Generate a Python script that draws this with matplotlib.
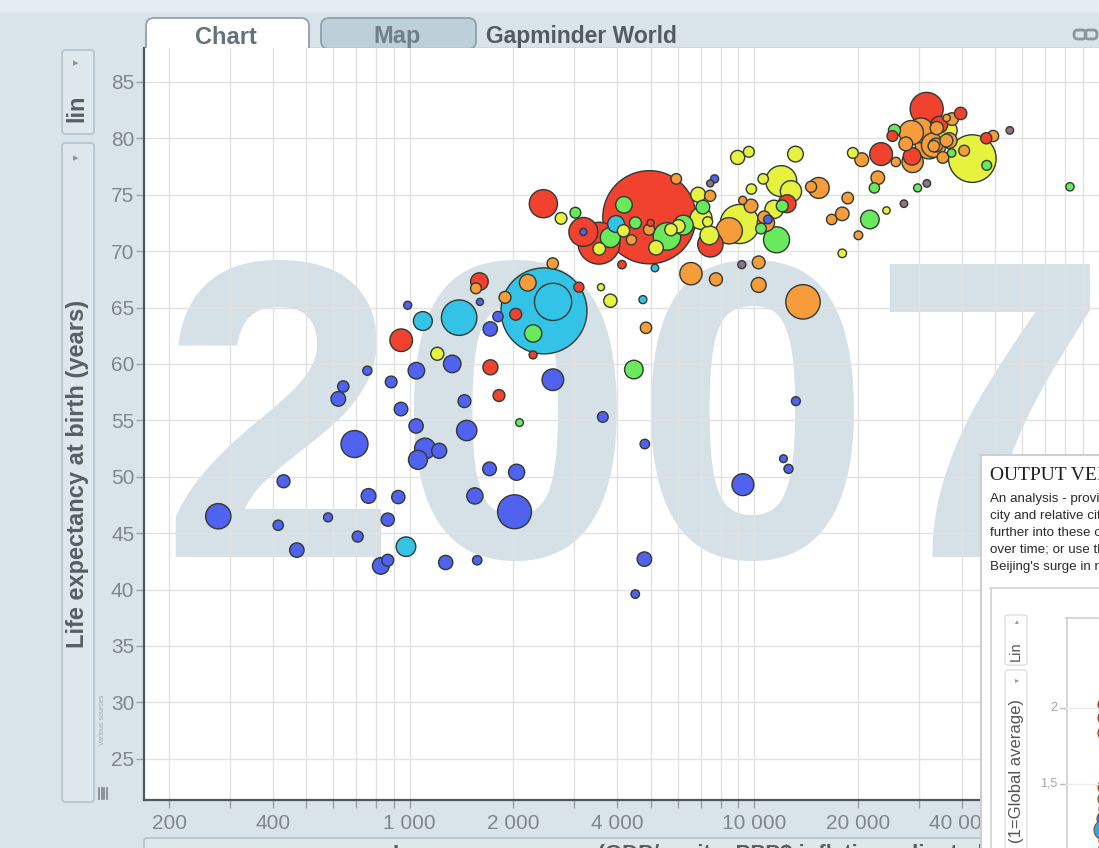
import numpy as np
import matplotlib
matplotlib.use("Agg")
import matplotlib.pyplot as plt
from matplotlib.patches import FancyBboxPatch, Rectangle, Circle
from matplotlib.ticker import FixedLocator, FixedFormatter, NullFormatter

W, H = 1099, 848

# ---------------- data (GDP per capita, life expectancy, population in millions) -------------
ssa_names = ["Angola", "Benin", "Botswana", "Burkina Faso", "Burundi", "Cameroon", "CAR", "Chad",
             "Comoros", "Congo DR", "Congo Rep", "Cote d'Ivoire", "Eq. Guinea", "Eritrea", "Ethiopia",
             "Gabon", "Gambia", "Ghana", "Guinea", "Guinea-Bissau", "Kenya", "Lesotho", "Liberia",
             "Madagascar", "Malawi", "Mali", "Mauritania", "Mauritius", "Mozambique", "Namibia", "Niger",
             "Nigeria", "Reunion", "Rwanda", "Sao Tome", "Senegal", "Sierra Leone", "Somalia",
             "South Africa", "Sudan", "Swaziland", "Tanzania", "Togo", "Uganda", "Zambia", "Zimbabwe",
             "Cape Verde"]
ssa_gdp = [4797, 1441, 12570, 1217, 430, 2042, 706, 1704, 986, 278, 3633, 1545, 12154, 641, 691,
           13206, 753, 1328, 943, 579, 1463, 1569, 415, 1045, 759, 1043, 1803, 10957, 824, 4811, 620,
           2014, 7670, 863, 1598, 1712, 863, 926, 9270, 2602, 4513, 1107, 883, 1056, 1271, 470, 3190]
ssa_life = [42.7, 56.7, 50.7, 52.3, 49.6, 50.4, 44.7, 50.7, 65.2, 46.5, 55.3, 48.3, 51.6, 58.0, 52.9,
            56.7, 59.4, 60.0, 56.0, 46.4, 54.1, 42.6, 45.7, 59.4, 48.3, 54.5, 64.2, 72.8, 42.1, 52.9, 56.9,
            46.9, 76.4, 46.2, 65.5, 63.1, 42.6, 48.2, 49.3, 58.6, 39.6, 52.5, 58.4, 51.5, 42.4, 43.5, 71.7]
ssa_pop = [12.4, 8.1, 1.6, 14.3, 8.4, 17.7, 4.4, 10.2, 0.7, 64.6, 3.8, 18.0, 0.55, 4.9, 76.5,
           1.45, 1.7, 22.9, 9.9, 1.5, 35.6, 2.0, 3.2, 19.2, 13.3, 12.0, 3.3, 1.25, 20.0, 2.1, 12.9,
           135.0, 0.8, 8.9, 0.2, 12.3, 6.1, 9.1, 44.0, 42.3, 1.1, 38.1, 5.7, 29.2, 11.7, 12.3, 0.2]

sa_names = ["Afghanistan", "Bangladesh", "India", "Nepal", "Pakistan", "Sri Lanka", "Bhutan", "Maldives"]
sa_gdp = [975, 1391, 2452, 1091, 2606, 3970, 4750, 5150]
sa_life = [43.8, 64.1, 64.7, 63.8, 65.5, 72.4, 65.7, 68.5]
sa_pop = [31.9, 150.4, 1110.4, 28.9, 169.3, 20.4, 0.7, 0.4]

eap_names = ["Cambodia", "China", "Hong Kong", "Indonesia", "Japan", "Korea DR", "Korea Rep", "Malaysia",
             "Mongolia", "Myanmar", "Philippines", "Singapore", "Taiwan", "Thailand", "Vietnam",
             "Australia", "New Zealand", "Laos", "Papua New Guinea", "Timor-Leste", "Fiji", "Samoa"]
eap_gdp = [1714, 4959, 39725, 3541, 31656, 1593, 23348, 12452, 3096, 944, 3190, 47143, 28718, 7458, 2442,
           34435, 25185, 2030, 1815, 2280, 4130, 5000]
eap_life = [59.7, 73.0, 82.2, 70.7, 82.6, 67.3, 78.6, 74.2, 66.8, 62.1, 71.7, 80.0, 78.4, 70.6, 74.2,
            81.2, 80.2, 64.4, 57.2, 60.8, 68.8, 72.5]
eap_pop = [14.1, 1318.7, 7.0, 223.5, 127.5, 23.3, 49.0, 24.8, 2.9, 47.8, 91.1, 4.6, 23.2, 65.1, 85.3,
           20.4, 4.1, 6.0, 6.0, 0.7, 1.0, 0.2]

mena_names = ["Algeria", "Egypt", "Libya", "Morocco", "Tunisia", "Djibouti", "Bahrain", "Iran", "Iraq",
              "Israel", "Jordan", "Kuwait", "Lebanon", "Oman", "Saudi Arabia", "Syria", "West Bank",
              "Yemen", "Qatar", "UAE"]
mena_gdp = [6223, 5581, 12058, 3820, 7093, 2082, 29796, 11606, 4471, 25523, 4519, 47307, 10461, 22316,
            21655, 4185, 3025, 2281, 82500, 37400]
mena_life = [72.3, 71.3, 74.0, 71.2, 73.9, 54.8, 75.6, 71.0, 59.5, 80.7, 72.5, 77.6, 72.0, 75.6, 72.8,
             74.1, 73.4, 62.7, 75.7, 78.7]
mena_pop = [33.3, 80.3, 6.0, 33.8, 10.3, 0.5, 0.7, 69.5, 27.5, 6.4, 6.1, 2.5, 3.9, 3.2, 27.6, 19.3, 4.0,
            22.2, 0.9, 1.0]

am_names = ["Argentina", "Bolivia", "Brazil", "Canada", "Chile", "Colombia", "Costa Rica", "Cuba",
            "Dominican Rep.", "Ecuador", "El Salvador", "Guatemala", "Haiti", "Honduras", "Jamaica",
            "Mexico", "Nicaragua", "Panama", "Paraguay", "Peru", "Puerto Rico", "Trinidad and Tobago",
            "United States", "Uruguay", "Venezuela", "Guyana", "Bahamas"]
am_gdp = [12779, 3822, 9066, 36319, 13172, 7007, 9645, 8948, 6025, 6873, 5728, 5186, 1202, 3548, 7321,
          11978, 2749, 9809, 4173, 7409, 19329, 18009, 42952, 10611, 11416, 3590, 24200]
am_life = [75.3, 65.6, 72.4, 80.7, 78.6, 72.9, 78.8, 78.3, 72.2, 75.0, 71.9, 70.3, 60.9, 70.2, 72.6,
           76.2, 72.9, 75.5, 71.8, 71.4, 78.7, 69.8, 78.2, 76.4, 73.7, 66.8, 73.6]
am_pop = [40.3, 9.1, 190.0, 33.4, 16.3, 44.2, 4.1, 11.4, 9.3, 13.8, 6.9, 12.6, 8.5, 7.5, 2.8,
          108.7, 5.7, 3.2, 6.7, 28.7, 3.9, 1.1, 301.1, 3.4, 26.1, 0.2, 0.3]

eca_names = ["Albania", "Austria", "Belgium", "Bosnia", "Bulgaria", "Croatia", "Czech Rep.", "Denmark",
             "Finland", "France", "Germany", "Greece", "Hungary", "Iceland", "Ireland", "Italy",
             "Montenegro", "Netherlands", "Norway", "Poland", "Portugal", "Romania", "Serbia", "Slovakia",
             "Slovenia", "Spain", "Sweden", "Switzerland", "Turkey", "United Kingdom", "Russia",
             "Ukraine", "Kazakhstan", "Belarus", "Azerbaijan", "Turkmenistan", "Uzbekistan",
             "Kyrgyzstan", "Tajikistan", "Moldova", "Armenia", "Georgia", "Lithuania", "Estonia"]
eca_gdp = [5937, 36126, 33693, 7446, 10681, 14619, 22833, 35278, 33207, 30470, 32170, 27538, 18009,
           36181, 40675, 28570, 9254, 36798, 49357, 15390, 20510, 10808, 9787, 18678, 25768, 28821,
           33860, 37506, 8458, 33203, 13850, 6550, 10300, 10300, 7740, 4850, 2200, 2600, 1890, 1556,
           4400, 4950, 16780, 20060]
eca_life = [76.4, 79.8, 79.4, 74.9, 73.0, 75.7, 76.5, 78.3, 79.3, 80.7, 79.4, 79.5, 73.3, 81.8, 78.9,
            80.5, 74.5, 79.8, 80.2, 75.6, 78.1, 72.5, 74.0, 74.7, 77.9, 77.9, 80.9, 81.7, 71.8, 79.4,
            65.5, 68.0, 67.0, 69.0, 67.5, 63.2, 67.2, 68.9, 65.9, 66.7, 71.0, 71.9, 72.8, 71.4]
eca_pop = [3.6, 8.2, 10.4, 4.6, 7.3, 4.5, 10.2, 5.5, 5.2, 61.1, 82.4, 10.7, 10.0, 0.3, 4.1, 58.1,
           0.7, 16.6, 4.6, 38.5, 10.6, 22.3, 10.2, 5.4, 2.0, 40.4, 9.0, 7.6, 71.2, 60.8, 140.0, 46.0,
           14.0, 8.0, 8.5, 5.0, 20.0, 5.0, 6.0, 4.0, 3.0, 4.5, 3.4, 1.3]

oth_gdp = [9200, 7450, 27200, 31700, 55200]
oth_life = [68.8, 76.0, 74.2, 76.0, 80.7]
oth_pop = [0.7, 0.2, 0.4, 0.4, 0.4]

x_ticks = [200, 400, 1000, 2000, 4000, 10000, 20000, 40000]
x_ticklabels = ["200", "400", "1 000", "2 000", "4 000", "10 000", "20 000", "40 000"]
y_ticks = [25, 30, 35, 40, 45, 50, 55, 60, 65, 70, 75, 80, 85]

# ---------------- styling ----------------
BG = "#d9e4ea"
C = {"ssa": "#5062ef", "sa": "#33c3e6", "eap": "#f1412f", "mena": "#68ea5c",
     "am": "#e6f23d", "eca": "#f79c3a", "oth": "#8c7388"}
SANS = ["Liberation Sans", "DejaVu Sans"]
NARROW = ["Liberation Sans Narrow", "Liberation Sans", "DejaVu Sans"]

groups = [("ssa", ssa_gdp, ssa_life, ssa_pop), ("sa", sa_gdp, sa_life, sa_pop),
          ("eap", eap_gdp, eap_life, eap_pop), ("mena", mena_gdp, mena_life, mena_pop),
          ("am", am_gdp, am_life, am_pop), ("eca", eca_gdp, eca_life, eca_pop),
          ("oth", oth_gdp, oth_life, oth_pop)]
gx, gy, gp, gc = [], [], [], []
for key, g, l, p in groups:
    gx += list(g); gy += list(l); gp += list(p); gc += [C[key]] * len(g)
gx, gy, gp = np.array(gx, float), np.array(gy, float), np.array(gp, float)
order = np.argsort(-gp)
r_px = 3.0 + 1.2 * np.sqrt(gp)
sizes = (1.44 * r_px) ** 2

fig = plt.figure(figsize=(W / 100, H / 100), dpi=100, facecolor=BG)


def frac(x0, y0, x1, y1):
    return [x0 / W, 1 - y1 / H, (x1 - x0) / W, (y1 - y0) / H]


# background / chrome axes (pixel coordinates)
bg = fig.add_axes([0, 0, 1, 1], zorder=0)
bg.set_xlim(0, W); bg.set_ylim(H, 0); bg.axis("off")
bg.add_patch(Rectangle((0, 0), W, 13, fc="#e6edf1", ec="none"))
bg.add_patch(FancyBboxPatch((146, 18), 163, 40, boxstyle="round,pad=0,rounding_size=8",
                            fc="white", ec="#93a2aa", lw=1.3))
bg.add_patch(FancyBboxPatch((321, 18), 155, 31, boxstyle="round,pad=0,rounding_size=8",
                            fc="#bdcfd9", ec="#8ea2ad", lw=1.3))
bg.plot([309, W], [48.5, 48.5], color="#7f8c93", lw=1.6)
bg.text(226, 37, "Chart", ha="center", va="center", fontsize=17, fontweight="bold",
        color="#66727a", family=NARROW)
bg.text(397, 37, "Map", ha="center", va="center", fontsize=17, fontweight="bold",
        color="#6f7f88", family=NARROW)
bg.text(486, 36, "Gapminder World", ha="left", va="center", fontsize=16.5, fontweight="bold",
        color="#535b60", family=NARROW)
# link icon
for x0 in (1074, 1085):
    bg.add_patch(FancyBboxPatch((x0, 30), 12, 9, boxstyle="round,pad=0,rounding_size=4",
                                fc="none", ec="#8a969c", lw=2))
# y-axis controls
bg.add_patch(FancyBboxPatch((62, 50), 32, 84, boxstyle="round,pad=0,rounding_size=3",
                            fc="#dde7ec", ec="#b3c3cc", lw=1.2))
bg.add_patch(FancyBboxPatch((62, 143), 32, 659, boxstyle="round,pad=0,rounding_size=3",
                            fc="#dde7ec", ec="#b3c3cc", lw=1.2))
bg.text(76, 63, "\u25b8", ha="center", va="center", fontsize=8, color="#8b979e")
bg.text(76, 158, "\u25b8", ha="center", va="center", fontsize=8, color="#8b979e")
bg.text(77, 108, "lin", rotation=90, ha="center", va="center", fontsize=17, fontweight="bold",
        color="#585f64", family=SANS)
bg.text(78, 474, "Life expectancy at birth (years)", rotation=90, ha="center", va="center",
        fontsize=17, fontweight="bold", color="#585f64", family=SANS)
bg.text(103, 720, "Various sources", rotation=90, ha="center", va="center", fontsize=5,
        color="#9ea7ac", family=SANS)
for xx in (99, 101.5, 104, 106.5):
    bg.plot([xx, xx], [788, 799], color="#7d878c", lw=1.2)
# x-axis label box
bg.add_patch(FancyBboxPatch((144, 838), 870, 40, boxstyle="round,pad=0,rounding_size=3",
                            fc="#dde7ec", ec="#b3c3cc", lw=1.2))
bg.text(692, 844, "Income per person (GDP/capita, PPP$ inflation-adjusted)", ha="center", va="top",
        fontsize=16, fontweight="bold", color="#585f64", family=SANS)

# main chart
ax = fig.add_axes(frac(144, 48, W, 800), zorder=1)
ax.set_facecolor("white")
ax.set_xscale("log")
ax.set_xlim(169.2, 100180)
ax.set_ylim(21.35, 88.0)
for s in ("top", "right"):
    ax.spines[s].set_visible(False)
for s in ("left", "bottom"):
    ax.spines[s].set_color("#4f575b")
    ax.spines[s].set_linewidth(1.6)
    ax.spines[s].set_zorder(4)

ax.xaxis.set_major_locator(FixedLocator(x_ticks))
ax.xaxis.set_major_formatter(FixedFormatter(x_ticklabels))
minor = [m * d for d in (100, 1000, 10000) for m in range(2, 10)]
minor = sorted(set(v for v in minor if v not in x_ticks))
ax.xaxis.set_minor_locator(FixedLocator(minor))
ax.xaxis.set_minor_formatter(NullFormatter())
ax.yaxis.set_major_locator(FixedLocator(y_ticks))
ax.grid(True, which="both", color="#e2e2e2", lw=1.0, zorder=1)
ax.tick_params(axis="both", which="both", direction="out", length=6, width=1,
               color="#9ba3a7", labelcolor="#7e878c", labelsize=15)
ax.tick_params(axis="x", pad=4)
ax.tick_params(axis="y", pad=1)
for lab in ax.get_xticklabels() + ax.get_yticklabels():
    lab.set_family(NARROW)

ax.text(188.3, 42.9, "2007", ha="left", va="baseline", fontsize=307, fontweight="bold",
        color="#d5e0e7", family=SANS, zorder=0.2, clip_on=True)

ax.scatter(gx[order], gy[order], s=sizes[order], c=[gc[i] for i in order],
           edgecolors="#2f3a30", linewidths=1.0, zorder=3)

# overlapping panel at lower right
axp = fig.add_axes(frac(980, 455, W, H), zorder=2)
axp.set_xlim(980, W); axp.set_ylim(H, 455)
axp.set_facecolor("white")
for s in axp.spines.values():
    s.set_visible(False)
axp.set_xticks([]); axp.set_yticks([])
axp.plot([980.5, 980.5], [455, H], color="#c9cfd3", lw=1.5, clip_on=False)
axp.plot([980, W], [455.5, 455.5], color="#c9cfd3", lw=1.5, clip_on=False)
axp.text(990, 476, "OUTPUT VERSUS INPUT", ha="left", va="center", fontsize=14,
         family=["Liberation Serif", "DejaVu Serif"], color="#1e1e1e", clip_on=True)
para = ["An analysis - provides", "city and relative city", "further into these cities",
        "over time; or use the", "Beijing's surge in recent"]
for i, line in enumerate(para):
    axp.text(990, 499 + 17 * i, line, ha="left", va="center", fontsize=9.6, family=SANS,
             color="#2a2a2a", clip_on=True)
axp.plot([990.5, 990.5], [588, H], color="#d2d2d2", lw=1.2)
axp.plot([990, W], [588.5, 588.5], color="#d2d2d2", lw=1.2)
axp.add_patch(FancyBboxPatch((1005, 615), 22, 50, boxstyle="round,pad=0,rounding_size=3",
                             fc="white", ec="#dedede", lw=1))
axp.add_patch(FancyBboxPatch((1005, 670), 22, 200, boxstyle="round,pad=0,rounding_size=3",
                             fc="white", ec="#dedede", lw=1))
axp.text(1017, 621, "\u25b8", ha="center", va="center", fontsize=5.5, color="#9a9a9a", rotation=90)
axp.text(1016, 651, "Lin", rotation=90, ha="center", va="center", fontsize=10.5, family=SANS,
         color="#555555", clip_on=True)
axp.text(1017, 680, "\u25b8", ha="center", va="center", fontsize=6, color="#9a9a9a")
axp.text(1016, 699, "(1=Global average)", rotation=90, ha="center", va="top", fontsize=12,
         family=SANS, color="#555555", clip_on=True)
axp.plot([1066.5, 1066.5], [618, H], color="#cfcfcf", lw=1.2)
axp.plot([1066, W], [618.5, 618.5], color="#cfcfcf", lw=1.2)
for yv, lab in ((708, "2"), (784, "1,5")):
    axp.plot([1060, 1066], [yv, yv], color="#bdbdbd", lw=1)
    axp.plot([1066, W], [yv, yv], color="#ececec", lw=1)
    axp.text(1057, yv, lab, ha="right", va="center", fontsize=9, family=SANS, color="#a6a6a6")
panel_bubbles = [(1106, 705, 8, "#ef4a2c"), (1105, 718, 7, "#ee4a2c"), (1106, 733, 8, "#f28a2a"),
                 (1106, 787, 8, "#ef4a2c"), (1105, 799, 7, "#22c08a"), (1106, 809, 7, "#ef5030"),
                 (1105, 819, 8, "#2f6fe6"), (1104, 830, 10, "#2aa8ee"), (1106, 841, 7, "#22c08a"),
                 (1105, 848, 6, "#e8e830")]
for cx, cy, rr, col in panel_bubbles:
    axp.add_patch(Circle((cx, cy), rr, fc=col, ec="#8a4a20", lw=0.8))

fig.savefig("out.png", dpi=100, facecolor=BG)
